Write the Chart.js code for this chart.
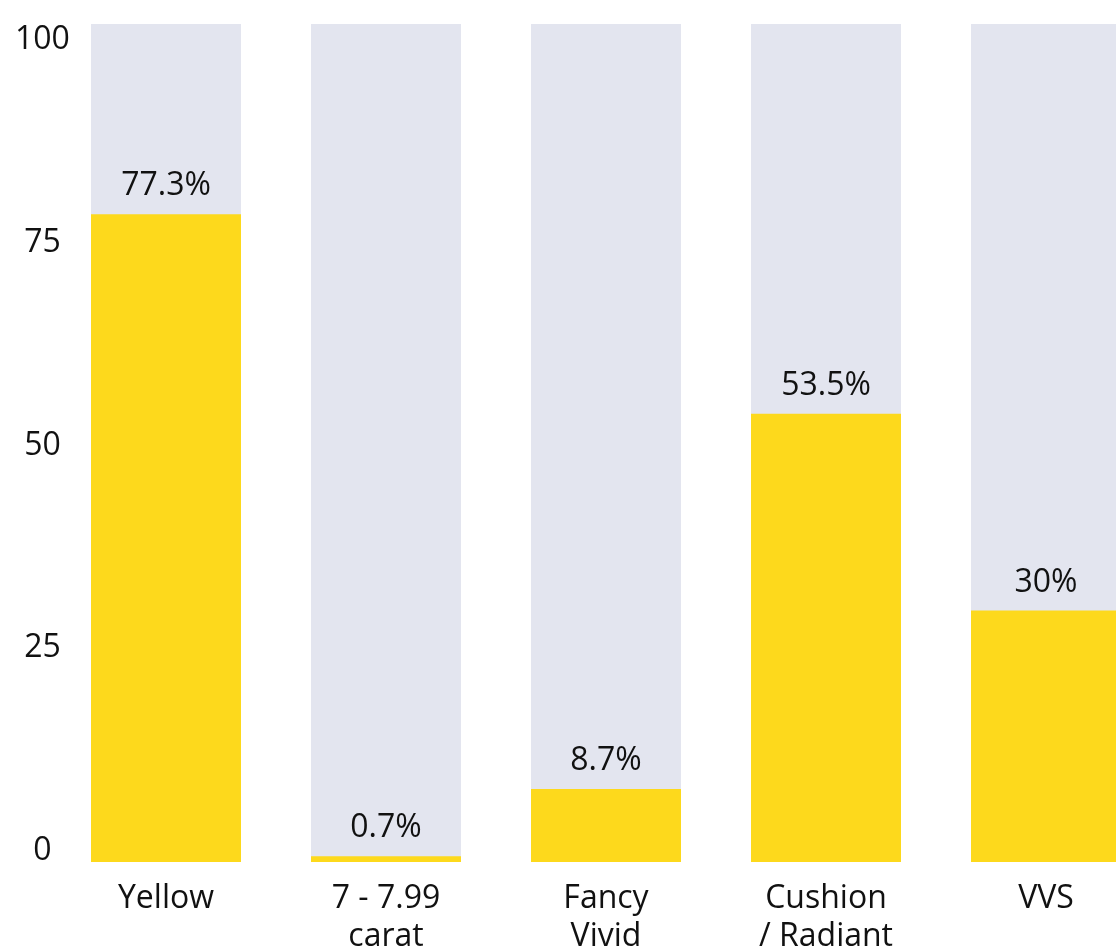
<!DOCTYPE html>
<html>
<head>
<meta charset="utf-8">
<script src="https://cdn.jsdelivr.net/npm/chart.js@4/dist/chart.umd.min.js"></script>
<style>
  html, body { margin: 0; padding: 0; background: #fff; overflow: hidden; }
  #wrap { width: 1156px; height: 950px; position: relative; }
</style>
</head>
<body>
<div id="wrap"><canvas id="myChart"></canvas></div>
<script>
const categories = ['Yellow', ['7 - 7.99', 'carat'], ['Fancy', 'Vivid'], ['Cushion', '/ Radiant'], 'VVS'];
const shares = [77.3, 0.7, 8.7, 53.5, 30];
const totals = [100, 100, 100, 100, 100];
const tickValues = [0, 25, 50, 75, 100];

const yellow = '#FDD91C';
const grey = '#E3E5EF';
const textColor = '#111111';
const fontFamily = '"Open Sans", "DejaVu Sans", sans-serif';

// draws "77.3%" etc above each yellow bar
const valueLabels = {
  id: 'valueLabels',
  afterDatasetsDraw(chart) {
    const ctx = chart.ctx;
    const meta = chart.getDatasetMeta(0);
    ctx.save();
    ctx.font = '500 32px ' + fontFamily;
    ctx.fillStyle = textColor;
    ctx.textAlign = 'center';
    ctx.textBaseline = 'middle';
    meta.data.forEach((bar, i) => {
      ctx.fillText(shares[i] + '%', bar.x, bar.y - 28);
    });
    ctx.restore();
  }
};

const ctx = document.getElementById('myChart').getContext('2d');

const myChart = new Chart(ctx, {
  type: 'bar',
  data: {
    labels: categories,
    datasets: [
      {
        label: 'Share',
        data: shares,
        backgroundColor: yellow,
        grouped: false,
        barPercentage: 150 / 220,
        categoryPercentage: 1,
        yAxisID: 'y'
      },
      {
        label: 'Total',
        data: totals,
        backgroundColor: grey,
        grouped: false,
        barPercentage: 150 / 220,
        categoryPercentage: 1,
        yAxisID: 'y'
      }
    ]
  },
  plugins: [valueLabels],
  options: {
    responsive: true,
    maintainAspectRatio: false,
    animation: false,
    layout: { padding: { top: 24, left: 0, right: 0, bottom: -24 } },
    plugins: {
      legend: { display: false },
      tooltip: { enabled: false }
    },
    scales: {
      x: {
        grid: { display: false, drawTicks: false },
        border: { display: false },
        ticks: {
          color: textColor,
          font: { family: fontFamily, size: 32, lineHeight: 38 / 32 },
          padding: 18,
          maxRotation: 0,
          autoSkip: false
        }
      },
      y: {
        display: false,
        min: 0,
        max: 100
      },
      yTicks: {
        position: 'left',
        min: -1.36,
        max: 101.97,
        grid: { display: false, drawTicks: false },
        border: { display: false },
        afterBuildTicks(scale) {
          scale.ticks = tickValues.map(v => ({ value: v }));
        },
        afterFit(scale) {
          scale.width = 56;
        },
        ticks: {
          color: textColor,
          font: { family: fontFamily, size: 32 },
          mirror: true,
          crossAlign: 'center',
          padding: -41
        }
      }
    }
  }
});
</script>
</body>
</html>
